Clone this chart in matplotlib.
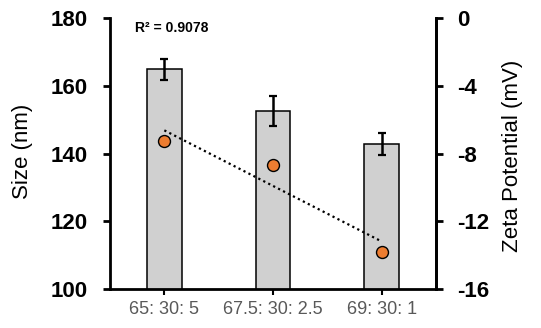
import numpy as np
import matplotlib.pyplot as plt

# --- data ---
ratios = ["65: 30: 5", "67.5: 30: 2.5", "69: 30: 1"]
size_nm = [164.9, 152.6, 142.8]
size_err = [3.1, 4.5, 3.3]
zeta_mv = [-7.24, -8.7, -13.8]
r2_text = "R\u00b2 = 0.9078"

plt.rcParams['font.family'] = ['Liberation Sans', 'DejaVu Sans']

x = np.arange(len(ratios))

fig = plt.figure(figsize=(5.41, 3.28), dpi=100)
ax = fig.add_axes([110 / 541, 1 - 289 / 328, 326 / 541, 271 / 328])

ax.bar(x, size_nm, width=0.32, color="#d0d0d0", edgecolor="black", linewidth=1.1,
       yerr=size_err, error_kw=dict(ecolor="black", elinewidth=1.8, capsize=3, capthick=1.6),
       zorder=2)
ax.set_xlim(-0.5, 2.5)
ax.set_ylim(100, 180)
ax.set_yticks([100, 120, 140, 160, 180])
ax.set_xticks(x)
ax.set_xticklabels(ratios, color="#595959", fontsize=13)
ax.set_ylabel("Size (nm)", fontsize=16)
ax.yaxis.set_label_coords(-0.236, 0.507)
for lab in ax.get_yticklabels():
    lab.set_fontweight("bold")
    lab.set_fontsize(16)
ax.tick_params(axis="y", direction="out", length=5, width=2, pad=11)
ax.tick_params(axis="x", direction="out", length=4.5, width=1.5, pad=4)
ax.spines["top"].set_visible(False)
for s in ["left", "bottom", "right"]:
    ax.spines[s].set_linewidth(2)

ax2 = ax.twinx()
ax2.set_ylim(-16, 0)
ax2.set_yticks([-16, -12, -8, -4, 0])
ax2.set_yticklabels(["-16", "-12", "-8", "-4", "0"], fontweight="bold", fontsize=16)
ax2.set_ylabel("Zeta Potential (mV)", fontsize=16)
ax2.yaxis.set_label_coords(1.202, 0.49)
ax2.tick_params(axis="y", direction="out", length=5, width=2, pad=10)
ax2.spines["top"].set_visible(False)
ax2.spines["right"].set_linewidth(2)
ax2.spines["left"].set_visible(False)
ax2.spines["bottom"].set_visible(False)

# linear trendline through the zeta points
coef = np.polyfit(x, zeta_mv, 1)
fit = np.polyval(coef, x)
ax2.plot(x, fit, linestyle=(0, (1, 1.5)), color="black", linewidth=1.6, zorder=3)
ax2.plot(x, zeta_mv, "o", markersize=8.6, markerfacecolor="#ED7D31",
         markeredgecolor="black", markeredgewidth=1, zorder=4)

ax2.text(-0.27, -0.6, r2_text, fontsize=10, fontweight="bold",
         va="center", ha="left")

fig.savefig("out.png", dpi=100)
